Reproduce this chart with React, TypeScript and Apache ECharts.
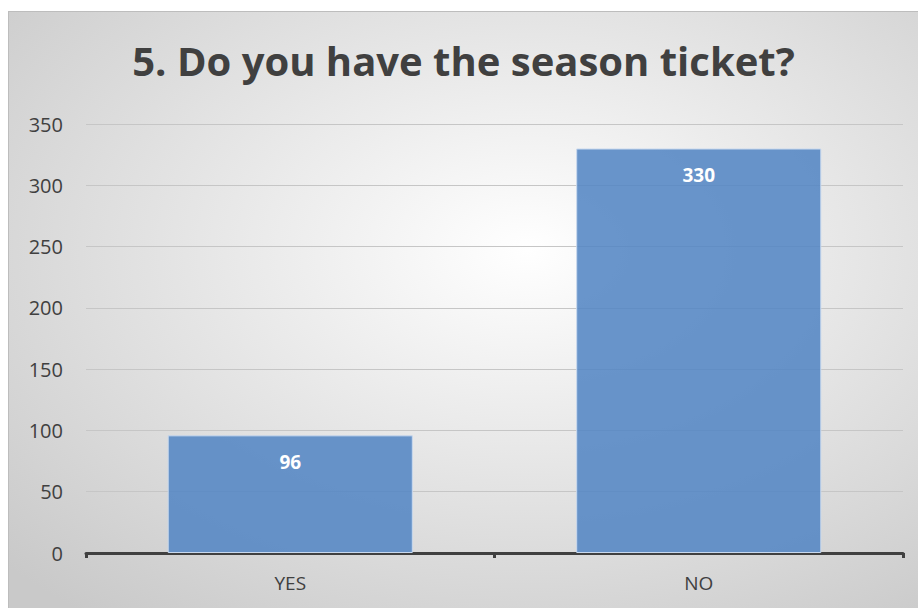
import React, { useEffect, useRef } from "react";
import * as echarts from "echarts";

const titleText = "5. Do you have the season ticket?";
const categories = ["YES", "NO"];
const values = [96, 330];
const yMin = 0;
const yMax = 350;
const yInterval = 50;

export default function App() {
  const ref = useRef<HTMLDivElement>(null);
  useEffect(() => {
    if (!ref.current) return;
    const chart = echarts.init(ref.current, null, { renderer: "svg" });
    chart.setOption({
      animation: false,
      backgroundColor: {
        type: "radial",
        x: 0.57,
        y: 0.4,
        r: 0.78,
        colorStops: [
          { offset: 0, color: "#ffffff" },
          { offset: 1, color: "#c9c9c9" },
        ],
      },
      title: {
        text: titleText,
        left: "center",
        top: 23,
        textStyle: {
          fontFamily: "Open Sans",
          fontWeight: "bold",
          fontSize: 40,
          color: "#404040",
        },
      },
      grid: { left: 77, right: 15, top: 112, bottom: 55 },
      xAxis: {
        type: "category",
        data: categories,
        axisLine: { lineStyle: { color: "#404040", width: 3 } },
        axisTick: { show: true, length: 5, lineStyle: { color: "#404040", width: 3 } },
        axisLabel: { color: "#404040", fontSize: 19, fontFamily: "Open Sans", margin: 20 },
      },
      yAxis: {
        type: "value",
        min: yMin,
        max: yMax,
        interval: yInterval,
        axisLine: { show: false },
        axisTick: { show: false },
        axisLabel: { color: "#404040", fontSize: 20, fontFamily: "Open Sans", margin: 23 },
        splitLine: { lineStyle: { color: "#c6c6c6", width: 1 } },
      },
      series: [
        {
          type: "bar",
          data: values,
          barWidth: "60%",
          itemStyle: {
            color: "rgba(84,134,196,0.88)",
            borderColor: "#c9d9ee",
            borderWidth: 1,
          },
          label: {
            show: true,
            position: "insideTop",
            distance: 17,
            color: "#ffffff",
            fontWeight: "bold",
            fontSize: 19,
            fontFamily: "Open Sans",
          },
        },
      ],
    });
    return () => chart.dispose();
  }, []);
  return (
    <div
      ref={ref}
      style={{
        position: "absolute",
        left: 8,
        top: 11,
        width: 910,
        height: 597,
        borderTop: "1px solid #bdbdbd",
        borderLeft: "1px solid #bdbdbd",
        boxSizing: "border-box",
      }}
    />
  );
}
